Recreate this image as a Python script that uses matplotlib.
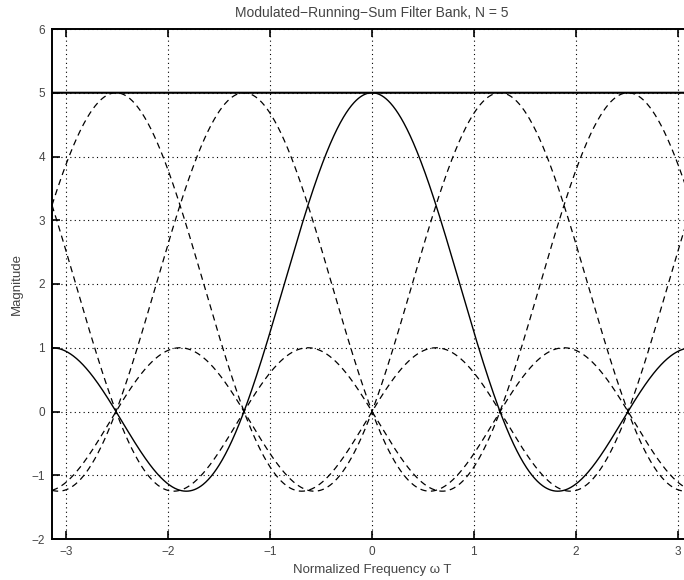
import numpy as np
import matplotlib
matplotlib.use("Agg")
import matplotlib.pyplot as plt

# Running-sum prototype: N equal taps, centred so the response is real
N = 5
taps = [1, 1, 1, 1, 1]
tap_index = [-2, -1, 0, 1, 2]
band_index = [-2, -1, 0, 1, 2]

xticks = [-3, -2, -1, 0, 1, 2, 3]
yticks = [-2, -1, 0, 1, 2, 3, 4, 5, 6]

plt.rcParams['font.family'] = ['Liberation Sans', 'DejaVu Sans']

w = np.linspace(-np.pi, np.pi, 1200)
n = np.array(tap_index)
h = np.array(taps, dtype=float)

fig = plt.figure(figsize=(6.84, 5.80), dpi=100)
ax = fig.add_axes([52 / 684, 41 / 580, 640 / 684, 510 / 580])

responses = []
for k in band_index:
    hk = h * np.exp(1j * 2 * np.pi * k * n / N)
    Hk = (hk[None, :] * np.exp(-1j * np.outer(w, n))).sum(axis=1).real
    responses.append(Hk)
    if k == 0:
        ax.plot(w, Hk, color='black', lw=1.0, solid_capstyle='butt')
    else:
        line, = ax.plot(w, Hk, color='black', lw=0.9)
        line.set_dashes((5, 3.5))

# the bank sums to a constant level
total = np.sum(responses, axis=0)
ax.plot(w, total, color='black', lw=1.5)

ax.set_xlim(-np.pi, np.pi)
ax.set_ylim(-2, 6)
ax.set_xticks(xticks)
ax.set_yticks(yticks)
ax.set_xticklabels([str(t).replace('-', '\u2212') for t in xticks])
ax.set_yticklabels([str(t).replace('-', '\u2212') for t in yticks])
ax.grid(True, color='black', linestyle=(0, (1, 3)), lw=0.8)
ax.tick_params(direction='in', length=5.5, width=1.2, top=True, right=True,
               labelsize=8.5, colors='black', labelcolor='#444444', pad=5)
for s in ax.spines.values():
    s.set_linewidth(1.4)

ax.set_title('Modulated\u2212Running\u2212Sum Filter Bank, N = 5', fontsize=10,
             color='#444444', pad=9)
ax.set_xlabel('Normalized Frequency \u03c9 T', fontsize=9.5, color='#444444', labelpad=4)
ax.set_ylabel('Magnitude', fontsize=9.5, color='#444444', labelpad=6)

fig.savefig('out.png', dpi=100)
